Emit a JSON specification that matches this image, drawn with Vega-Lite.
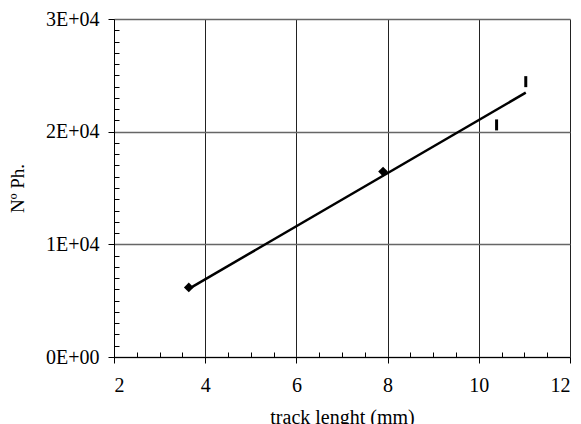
{
  "$schema": "https://vega.github.io/schema/vega-lite/v6.json",
  "width": 456,
  "height": 338,
  "autosize": {"type": "none"},
  "padding": {"left": 114, "top": 19, "right": 11, "bottom": 67},
  "background": "white",
  "config": {
    "view": {"stroke": null},
    "font": "Liberation Serif, Times New Roman, serif",
    "axis": {
      "labelFont": "Liberation Serif, Times New Roman, serif",
      "titleFont": "Liberation Serif, Times New Roman, serif",
      "labelColor": "black",
      "titleColor": "black",
      "labelFontSize": 20,
      "titleFontSize": 20,
      "titleFontWeight": "normal",
      "domainColor": "black",
      "tickColor": "black",
      "gridColor": "#555555",
      "gridWidth": 1,
      "gridOpacity": 1
    }
  },
  "datasets": {
    "fit": [{"x": 3.64, "y": 6050}, {"x": 11.03, "y": 23460}],
    "points": [{"x": 3.64, "y": 6170}, {"x": 7.9, "y": 16460}],
    "bars": [{"x": 10.39, "y": 20600}, {"x": 11.03, "y": 24440}]
  },
  "layer": [
    {
      "data": {"name": "fit"},
      "mark": {"type": "line", "color": "black", "strokeWidth": 2.5},
      "encoding": {
        "x": {
          "field": "x", "type": "quantitative",
          "scale": {"domain": [2, 12], "nice": false, "zero": false},
          "axis": {
            "orient": "bottom",
            "values": [2, 4, 6, 8, 10, 12],
            "grid": true,
            "gridColor": "#222222",
            "tickSize": 6,
            "labelPadding": 12,
            "title": "track lenght (mm)",
            "titlePadding": 12
          }
        },
        "y": {
          "field": "y", "type": "quantitative",
          "scale": {"domain": [0, 30000], "nice": false},
          "axis": {
            "orient": "left",
            "values": [0, 10000, 20000, 30000],
            "grid": true,
            "gridColor": "#666666",
            "gridWidth": 1.5,
            "tickSize": 6,
            "labelPadding": 9,
            "labelExpr": "datum.value == 0 ? '0E+00' : format(datum.value / 10000, 'd') + 'E+04'",
            "title": "Nº Ph.",
            "titleFontSize": 19,
            "titlePadding": 18
          }
        }
      }
    },
    {
      "data": {"name": "points"},
      "mark": {"type": "point", "shape": "diamond", "filled": true, "color": "black", "size": 95, "opacity": 1},
      "encoding": {
        "x": {
          "field": "x", "type": "quantitative",
          "axis": {
            "orient": "bottom",
            "values": [2.5, 3, 3.5, 4.5, 5, 5.5, 6.5, 7, 7.5, 8.5, 9, 9.5, 10.5, 11, 11.5],
            "grid": false, "domain": false, "labels": false, "title": null,
            "tickSize": -5
          }
        },
        "y": {
          "field": "y", "type": "quantitative",
          "axis": {
            "orient": "left",
            "values": [1000, 2000, 3000, 4000, 5000, 6000, 7000, 8000, 9000, 11000, 12000, 13000, 14000, 15000, 16000, 17000, 18000, 19000, 21000, 22000, 23000, 24000, 25000, 26000, 27000, 28000, 29000],
            "grid": false, "domain": false, "labels": false, "title": null,
            "tickSize": -5
          }
        }
      }
    },
    {
      "data": {"name": "bars"},
      "mark": {"type": "point", "shape": "M0,-1L0,1", "filled": false, "color": "black", "strokeWidth": 3, "size": 121, "opacity": 1},
      "encoding": {
        "x": {"field": "x", "type": "quantitative", "axis": null},
        "y": {"field": "y", "type": "quantitative", "axis": null}
      }
    }
  ],
  "resolve": {"axis": {"x": "independent", "y": "independent"}}
}
